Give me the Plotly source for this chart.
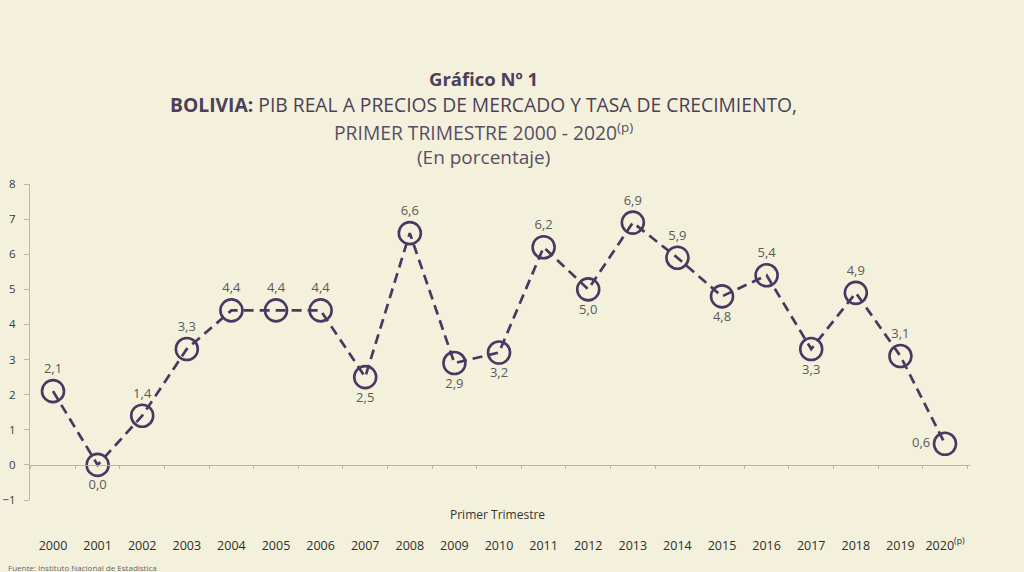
import plotly.graph_objects as go

years = list(range(2000, 2021))
year_labels = [str(y) for y in range(2000, 2020)] + ["2020<sup>(p)</sup>"]
growth = [2.1, 0.0, 1.4, 3.3, 4.4, 4.4, 4.4, 2.5, 6.6, 2.9, 3.2, 6.2, 5.0, 6.9, 5.9, 4.8, 5.4, 3.3, 4.9, 3.1, 0.6]
label_pos = ["top center", "bottom center", "top center", "top center", "top center", "top center",
             "top center", "bottom center", "top center", "bottom center", "bottom center", "top center",
             "bottom center", "top center", "top center", "bottom center", "top center", "bottom center",
             "top center", "top center", "middle left"]
y_ticks = [-1, 0, 1, 2, 3, 4, 5, 6, 7, 8]
mid_ticks = [y + 0.5 for y in range(1999, 2021)]

BG = "#f3f1dc"
PURPLE = "#4a3862"
FONT = "Open Sans, sans-serif"

labels = [f"{v:.1f}".replace(".", ",") for v in growth]

fig = go.Figure()
fig.add_trace(go.Scatter(
    x=years, y=growth, mode="lines+markers+text",
    line=dict(color=PURPLE, width=2.7, dash="10px,6px"),
    marker=dict(symbol="circle-open", size=22, color=PURPLE, line=dict(width=2.6, color=PURPLE)),
    text=labels, textposition=label_pos,
    textfont=dict(family=FONT, size=13, color="#5a5a5a"),
    cliponaxis=False, showlegend=False, hoverinfo="x+y"))
# invisible trace to activate the zero-line axis
fig.add_trace(go.Scatter(x=[years[0]], y=[0], xaxis="x2", mode="markers",
                         marker=dict(opacity=0), showlegend=False, hoverinfo="skip"))

xr = [1999.484, 2020.56]
fig.update_layout(
    width=1024, height=572,
    margin=dict(l=30, r=54, t=184, b=72),
    paper_bgcolor=BG, plot_bgcolor=BG,
    font=dict(family=FONT, color="#444"),
    xaxis=dict(range=xr, tickvals=years, ticktext=year_labels, showline=False, showgrid=False,
               zeroline=False, ticks="", ticklabelstandoff=36, automargin=False,
               tickfont=dict(family=FONT, size=12.5, color="#2e2e2e")),
    xaxis2=dict(range=xr, overlaying="x", anchor="free", position=1/9, side="bottom",
                showline=True, linecolor="#b9b8a0", linewidth=1, tickvals=mid_ticks,
                ticks="outside", ticklen=3, tickcolor="#b9b8a0", showticklabels=False,
                showgrid=False, zeroline=False, automargin=False),
    yaxis=dict(range=[-1, 8], tickvals=y_ticks, showline=True, linecolor="#b9b8a0", linewidth=1,
               ticks="outside", ticklen=5, tickcolor="#b9b8a0", showgrid=False, zeroline=False,
               ticklabelstandoff=6, automargin=False,
               tickfont=dict(family=FONT, size=11.5, color="#3a3a3a")),
)

title_color = "#4d3f57"
anns = [
    dict(text="<b>Gráfico Nº 1</b>", y=78, size=18.5, color=title_color),
    dict(text="<b>BOLIVIA:</b> PIB REAL A PRECIOS DE MERCADO Y TASA DE CRECIMIENTO,", y=104, size=19.3, color=title_color),
    dict(text="PRIMER TRIMESTRE 2000 - 2020<sup>(p)</sup>", y=132, size=19.3, color="#5a4d63"),
    dict(text="(En porcentaje)", y=157, size=19, color="#5a4d63"),
]
for a in anns:
    fig.add_annotation(text=a["text"], xref="paper", yref="paper", x=(483 - 30) / 940,
                       y=(500 - a["y"]) / 316, xanchor="center", yanchor="middle", showarrow=False,
                       font=dict(family=FONT, size=a["size"], color=a["color"]))
fig.add_annotation(text="Primer Trimestre", xref="paper", yref="paper", x=(497 - 30) / 940,
                   y=(500 - 514) / 316, xanchor="center", yanchor="middle", showarrow=False,
                   font=dict(family=FONT, size=12, color="#333"))
fig.add_annotation(text="Fuente: Instituto Nacional de Estadística", xref="paper", yref="paper",
                   x=(6 - 30) / 940, y=(500 - 567) / 316, xanchor="left", yanchor="middle",
                   showarrow=False, font=dict(family=FONT, size=8, color="#666"))

fig.write_html("out.html")
